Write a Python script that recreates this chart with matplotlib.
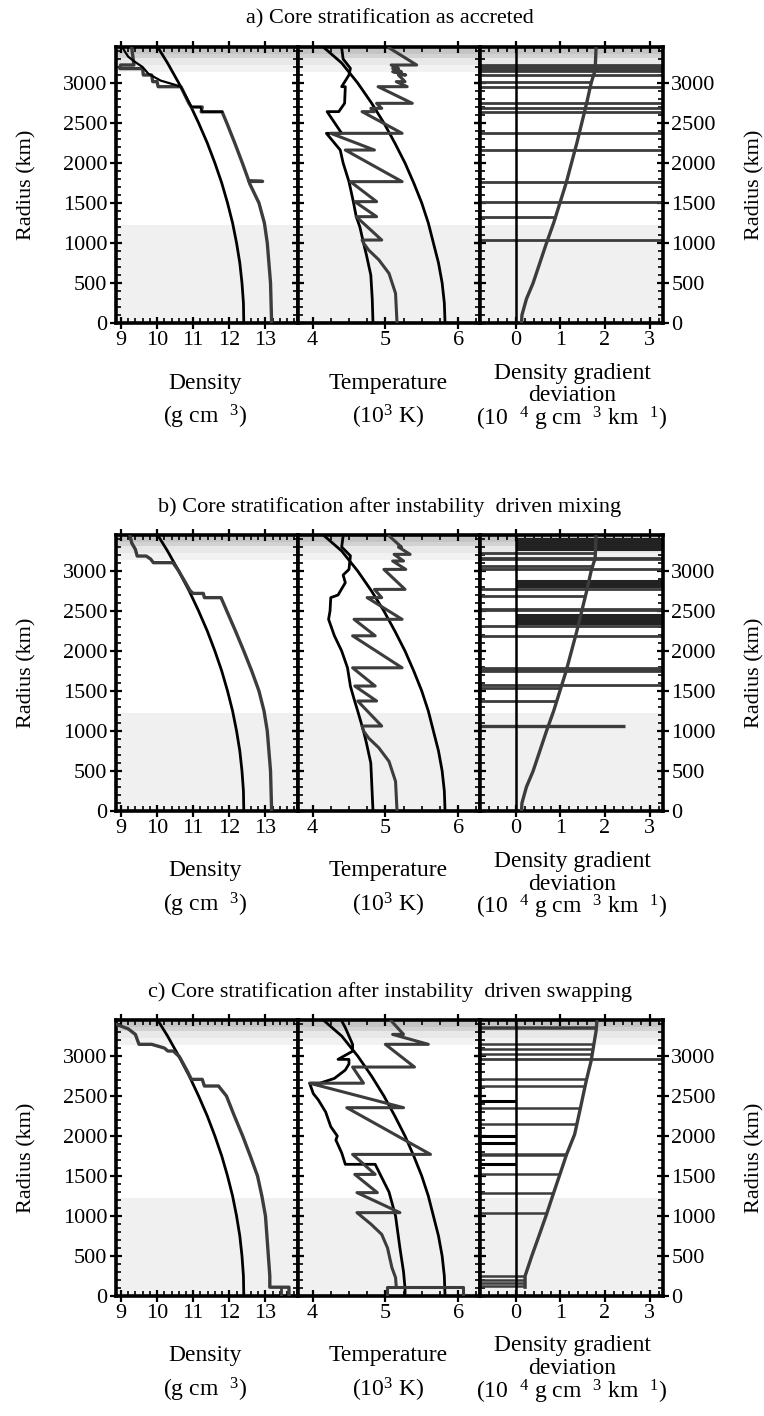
import numpy as np
import matplotlib
matplotlib.use("Agg")
import matplotlib.pyplot as plt
from matplotlib.ticker import MultipleLocator

plt.rcParams['font.family'] = ['Liberation Serif', 'DejaVu Serif']
plt.rcParams['mathtext.fontset'] = 'custom'
plt.rcParams['mathtext.rm'] = 'Liberation Serif'
plt.rcParams['mathtext.it'] = 'Liberation Serif:italic'

# ---------------- data ----------------
R_REF = [0, 250, 500, 750, 1000, 1250, 1500, 1750, 2000, 2250, 2500, 2750, 3000, 3250, 3440]
RHO_REF = [12.40, 12.39, 12.35, 12.29, 12.20, 12.09, 11.95, 11.79, 11.60, 11.39, 11.15, 10.89, 10.60, 10.29, 10.03]
T_ADIABAT = [5.82, 5.81, 5.78, 5.73, 5.66, 5.59, 5.50, 5.39, 5.27, 5.13, 4.98, 4.81, 4.62, 4.40, 4.16]

# panel a -------------------------------------------------------------
A_RHO_R = [0, 500, 1000, 1250, 1500, 1745, 1770, 1770, 1775, 2000, 2250, 2500, 2640, 2640, 2700, 2700,
           2746, 2850, 2954, 2954, 3017, 3017, 3100, 3100, 3180, 3180, 3225, 3225, 3440]
A_RHO = [13.17, 13.14, 13.05, 12.97, 12.82, 12.56, 12.55, 12.92, 12.54, 12.36, 12.15, 11.93, 11.80, 11.22, 11.25, 10.95,
         10.88, 10.77, 10.66, 10.03, 10.00, 9.88, 9.85, 9.62, 9.60, 8.97, 8.99, 9.36, 9.30]
A_RHOB_R = [2640, 2640, 2700, 2700, 2954, 2990, 3030, 3080, 3120, 3200, 3260, 3330, 3400, 3440]
A_RHOB = [11.80, 11.25, 11.20, 10.95, 10.66, 10.40, 10.10, 9.90, 9.75, 9.60, 9.40, 9.20, 9.10, 9.05]

A_TG_R = [0, 370, 620, 790, 912, 1000, 1037, 1037, 1329, 1329, 1517, 1517, 1767, 1767, 2162, 2162, 2371, 2371,
          2642, 2642, 2683, 2683, 2746, 2746, 2954, 2954, 3017, 3017, 3100, 3100, 3142, 3142, 3183, 3183,
          3225, 3225, 3440]
A_TG = [5.16, 5.14, 5.05, 4.91, 4.77, 4.70, 4.68, 4.95, 4.60, 4.88, 4.58, 4.88, 4.52, 5.23, 4.45, 4.85, 4.25, 5.23,
        4.68, 4.85, 4.80, 4.95, 4.88, 5.37, 4.90, 5.30, 5.15, 5.27, 5.18, 5.28, 5.10, 5.22, 5.10, 5.18,
        5.08, 5.43, 5.05]
A_TB_R = [0, 300, 600, 850, 1000, 1200, 1329, 1517, 1767, 2000, 2162, 2371, 2371, 2642, 2642, 2746, 2954, 2954,
          3100, 3183, 3300, 3440]
A_TB = [4.83, 4.82, 4.80, 4.74, 4.70, 4.65, 4.60, 4.56, 4.50, 4.42, 4.38, 4.19, 4.40, 4.20, 4.36, 4.44, 4.45, 4.40,
        4.50, 4.52, 4.42, 4.40]

GRAD_R = [0, 100, 300, 500, 750, 1000, 1250, 1500, 1750, 2000, 2250, 2500, 2750, 3000, 3160, 3440]
GRAD_AB = [0.13, 0.14, 0.24, 0.39, 0.54, 0.69, 0.85, 0.99, 1.13, 1.25, 1.37, 1.48, 1.59, 1.69, 1.78, 1.80]
A_LINES_FULL = [1037, 1517, 1767, 2162, 2371, 2642, 2683, 2746, 2954, 3100, 3145, 3160, 3175, 3190, 3205, 3220]
A_LINES_CURVE = [1329, 3017]

# panel b -------------------------------------------------------------
B_RHO_R = [0, 500, 1000, 1250, 1500, 1750, 2000, 2250, 2500, 2667, 2667, 2720, 2720, 2750, 3000, 3104, 3104,
           3150, 3187, 3187, 3270, 3350, 3440]
B_RHO = [13.17, 13.14, 13.05, 12.96, 12.82, 12.62, 12.40, 12.17, 11.93, 11.77, 11.31, 11.28, 11.00, 10.92, 10.60,
         10.44, 9.90, 9.82, 9.70, 9.45, 9.40, 9.30, 9.25]

B_TG_R = [0, 370, 620, 790, 912, 1000, 1062, 1062, 1375, 1375, 1562, 1562, 1790, 1790, 2190, 2190, 2396, 2396,
          2667, 2667, 2770, 2770, 3020, 3020, 3125, 3125, 3208, 3208, 3300, 3300, 3440]
B_TG = [5.16, 5.14, 5.05, 4.91, 4.77, 4.70, 4.68, 4.95, 4.62, 4.88, 4.58, 4.86, 4.55, 5.23, 4.55, 4.86, 4.57, 5.23,
        4.75, 4.95, 4.85, 5.27, 4.98, 5.28, 5.10, 5.25, 5.12, 5.34, 5.18, 5.22, 5.05]
B_TB_R = [0, 600, 850, 1000, 1250, 1400, 1560, 1790, 2000, 2190, 2396, 2500, 2667, 2700, 2854, 2950, 3020, 3190,
          3300, 3440]
B_TB = [4.83, 4.80, 4.74, 4.70, 4.62, 4.57, 4.52, 4.48, 4.40, 4.30, 4.22, 4.24, 4.25, 4.35, 4.45, 4.42, 4.50, 4.52,
        4.40, 4.42]

B_LINES_FULL = [1580, 1750, 1760, 1770, 1780, 1790, 2190, 2310, 2510, 2530, 2770, 3020, 3150, 3160]
B_LINES_BAND = [2350, 2365, 2380, 2395, 2410, 2425, 2440, 2455, 2810, 2825, 2840, 2855, 2870,
                3270, 3285, 3300, 3315, 3330, 3345, 3360, 3375, 3390, 3400]
B_LINES_CURVE = [1375, 1540, 2690, 3060, 3230]
B_LINE_LONG_R = [1062]
B_LINE_LONG_X = [2.44]

# panel c -------------------------------------------------------------
C_RHO_R = [0, 110, 110, 250, 500, 1000, 1250, 1500, 1750, 2000, 2250, 2500, 2625, 2625, 2708, 2708, 2800, 2990,
           3062, 3062, 3100, 3146, 3146, 3270, 3340, 3390]
C_RHO = [13.65, 13.65, 13.12, 13.12, 13.08, 13.00, 12.90, 12.78, 12.58, 12.37, 12.14, 11.92, 11.70, 11.31, 11.25,
         10.95, 10.85, 10.62, 10.45, 10.30, 10.20, 9.85, 9.50, 9.40, 9.20, 8.90]
C_RHO2_R = [0, 110]
C_RHO2 = [13.43, 13.43]

C_TBOX_R = [0, 110, 110, 0]
C_TBOX = [5.02, 5.02, 6.07, 6.07]
C_TG_R = [110, 230, 354, 600, 770, 900, 1042, 1042, 1292, 1292, 1520, 1520, 1770, 1770, 2354, 2354, 2660, 2660,
          2862, 2862, 3146, 3146, 3270, 3270, 3440]
C_TG = [5.15, 5.14, 5.09, 5.03, 4.95, 4.80, 4.61, 5.20, 4.61, 4.89, 4.58, 4.86, 4.55, 5.62, 4.47, 5.25, 3.96, 4.70,
        4.55, 5.40, 5.00, 5.59, 5.10, 5.25, 5.08]
C_TB_R = [0, 100, 300, 600, 1000, 1300, 1646, 1646, 1790, 1950, 2000, 2117, 2300, 2450, 2530, 2660, 2660, 2720,
          2825, 2900, 2958, 2958, 3060, 3146, 3354, 3440]
C_TB = [5.27, 5.27, 5.25, 5.20, 5.14, 5.05, 4.86, 4.45, 4.40, 4.32, 4.34, 4.25, 4.18, 4.08, 4.01, 3.96, 4.10, 4.30,
        4.45, 4.50, 4.50, 4.35, 4.55, 4.55, 4.45, 4.40]

GRAD_C_R = [110, 250, 500, 750, 1020, 1290, 1520, 1770, 2020, 2350, 2690, 2940, 3310, 3440]
GRAD_C = [0.21, 0.21, 0.36, 0.52, 0.69, 0.85, 0.99, 1.14, 1.32, 1.45, 1.58, 1.69, 1.80, 1.82]
C_LINES_CURVE = [125, 165, 205, 245, 1042, 1290, 1520, 1765, 1775, 2146, 2354, 2625, 2708, 3020, 3083,
                 3146, 3345, 3360]
C_LINES_FULL = [2958]
C_LINES_LEFT = [1646, 1917, 2000, 2437]

# ---------------- layout ----------------
W, H = 764, 1416
fig = plt.figure(figsize=(W / 100, H / 100), dpi=100)

XEDGES = [115.5, 298, 480, 663]
TOPS = [47, 535, 1020]
BOTS = [323, 811, 1296]
YMAX = 3450
XLIMS = [(8.85, 13.9), (3.8, 6.3), (-0.8, 3.3)]
XMAJ = [1, 1, 1]
XMIN = [0.2, 0.25, 0.2]
TITLES = ["a) Core stratification as accreted",
          "b) Core stratification after instability  driven mixing",
          "c) Core stratification after instability  driven swapping"]

GREY = '#3c3c3c'


def shade(ax):
    ax.axhspan(0, 1220, color='#f0f0f0', lw=0, zorder=0)
    ax.axhspan(3140, 3230, color='#f2f2f2', lw=0, zorder=0)
    ax.axhspan(3230, 3310, color='#e8e8e8', lw=0, zorder=0)
    ax.axhspan(3310, 3360, color='#d2d2d2', lw=0, zorder=0)
    ax.axhspan(3360, YMAX, color='#c4c4c4', lw=0, zorder=0)


def px(x, y):
    return x / W, 1 - y / H


def style(ax, i, kind):
    ax.set_xlim(*XLIMS[kind])
    ax.set_ylim(0, YMAX)
    ax.xaxis.set_major_locator(MultipleLocator(XMAJ[kind]))
    ax.xaxis.set_minor_locator(MultipleLocator(XMIN[kind]))
    ax.yaxis.set_major_locator(MultipleLocator(500))
    ax.yaxis.set_minor_locator(MultipleLocator(100))
    ax.tick_params(which='major', direction='inout', length=8, width=1.6,
                   top=True, bottom=True, left=True, right=True, labelsize=16, pad=2)
    ax.tick_params(which='minor', direction='in', length=3.5, width=1.2,
                   top=True, bottom=True, left=True, right=True)
    ax.tick_params(labelleft=(kind == 0), labelright=(kind == 2))
    for s in ax.spines.values():
        s.set_linewidth(2.6)
    ax.set_facecolor('white')


for p in range(3):
    axes = []
    for k in range(3):
        l, b = px(XEDGES[k], BOTS[p])
        w = (XEDGES[k + 1] - XEDGES[k]) / W
        h = (BOTS[p] - TOPS[p]) / H
        ax = fig.add_axes([l, b, w, h])
        shade(ax)
        style(ax, p, k)
        axes.append(ax)
    axd, axt, axg = axes

    axd.plot(RHO_REF, R_REF, color='black', lw=2.0, zorder=3)
    axt.plot(T_ADIABAT, R_REF, color='black', lw=2.0, zorder=3)
    axg.axvline(0, color='black', lw=1.8, zorder=3)
    xl = XLIMS[2]

    if p == 0:
        axd.plot(A_RHO, A_RHO_R, color=GREY, lw=2.4, zorder=3)
        axd.plot(A_RHOB, A_RHOB_R, color='black', lw=1.6, zorder=4)
        axt.plot(A_TB, A_TB_R, color='black', lw=2.0, zorder=3)
        axt.plot(A_TG, A_TG_R, color=GREY, lw=2.2, zorder=4)
        axg.hlines(A_LINES_FULL, xl[0], xl[1], color=GREY, lw=2.0, zorder=2)
        axg.hlines(A_LINES_CURVE, xl[0], np.interp(A_LINES_CURVE, GRAD_R, GRAD_AB), color=GREY, lw=2.0, zorder=2)
        axg.plot(GRAD_AB, GRAD_R, color=GREY, lw=2.4, zorder=4)
    elif p == 1:
        axd.plot(B_RHO, B_RHO_R, color=GREY, lw=2.4, zorder=3)
        axt.plot(B_TB, B_TB_R, color='black', lw=2.0, zorder=3)
        axt.plot(B_TG, B_TG_R, color=GREY, lw=2.2, zorder=4)
        axg.hlines(B_LINES_FULL, xl[0], xl[1], color=GREY, lw=2.0, zorder=2)
        axg.hlines(B_LINES_BAND, 0, xl[1], color='#222222', lw=2.2, zorder=2)
        axg.hlines(B_LINES_CURVE, xl[0], np.interp(B_LINES_CURVE, GRAD_R, GRAD_AB), color=GREY, lw=2.0, zorder=2)
        axg.hlines(B_LINE_LONG_R, xl[0], B_LINE_LONG_X, color=GREY, lw=2.4, zorder=2)
        axg.plot(GRAD_AB, GRAD_R, color=GREY, lw=2.4, zorder=4)
    else:
        axd.plot(C_RHO, C_RHO_R, color=GREY, lw=2.4, zorder=3)
        axd.plot(C_RHO2, C_RHO2_R, color=GREY, lw=2.0, zorder=3)
        axt.plot(C_TB, C_TB_R, color='black', lw=2.0, zorder=3)
        axt.plot(C_TG, C_TG_R, color=GREY, lw=2.2, zorder=4)
        axt.plot(C_TBOX, C_TBOX_R, color=GREY, lw=2.2, zorder=4)
        axg.hlines(C_LINES_FULL, xl[0], xl[1], color=GREY, lw=2.0, zorder=2)
        axg.hlines(C_LINES_CURVE, xl[0], np.interp(C_LINES_CURVE, GRAD_C_R, GRAD_C), color=GREY, lw=1.8, zorder=2)
        axg.hlines(C_LINES_LEFT, xl[0], 0, color='black', lw=2.2, zorder=2)
        axg.plot(GRAD_C, GRAD_C_R, color=GREY, lw=2.4, zorder=4)

    ymid = (TOPS[p] + BOTS[p]) / 2
    fig.text(*px(27, ymid), "Radius (km)", rotation=90, ha='center', va='center', fontsize=16)
    fig.text(*px(755, ymid), "Radius (km)", rotation=90, ha='center', va='center', fontsize=16)
    top = TOPS[p]
    fig.text(*px(390, top - 28), TITLES[p], ha='center', va='center', fontsize=16)
    bot = BOTS[p]
    fig.text(*px(205, bot + 60), "Density", ha='center', va='center', fontsize=17)
    fig.text(*px(205, bot + 94), "(g cm  $^{3}$)", ha='center', va='center', fontsize=17)
    fig.text(*px(388, bot + 60), "Temperature", ha='center', va='center', fontsize=17)
    fig.text(*px(388, bot + 94), "(10$^{3}$ K)", ha='center', va='center', fontsize=17)
    fig.text(*px(572, bot + 50), "Density gradient", ha='center', va='center', fontsize=17)
    fig.text(*px(572, bot + 73), "deviation", ha='center', va='center', fontsize=17)
    fig.text(*px(572, bot + 96), "(10  $^{4}$ g cm  $^{3}$ km  $^{1}$)", ha='center', va='center', fontsize=17)

fig.savefig("out.png", dpi=100)
